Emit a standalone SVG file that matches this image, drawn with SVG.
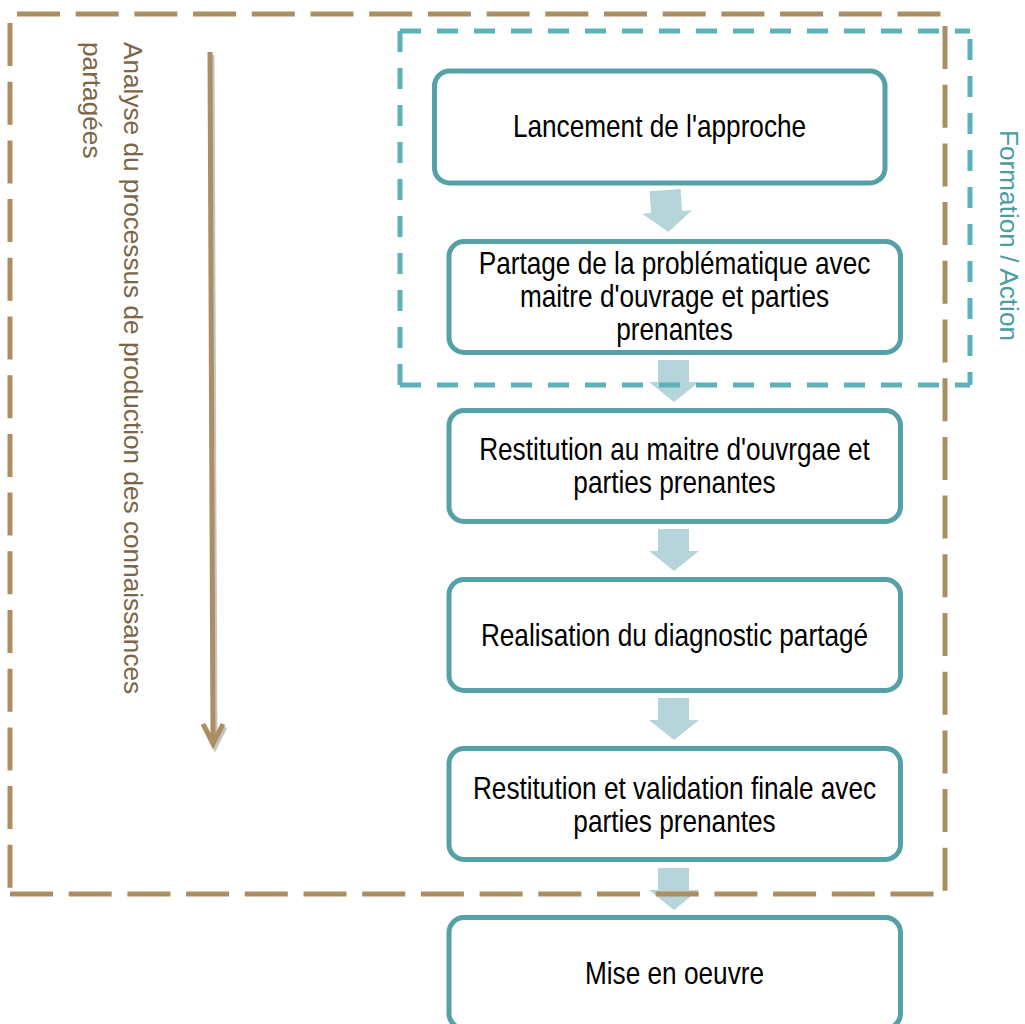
<svg xmlns="http://www.w3.org/2000/svg" xmlns:xlink="http://www.w3.org/1999/xlink" width="1025" height="1024" viewBox="0 0 1025 1024">
<style>
.box{fill:#ffffff;stroke:#55a1a7;stroke-width:5}
.lbl{font-family:"Liberation Sans",Arial,sans-serif;font-size:31px;fill:#000000;text-anchor:middle}
.blk{fill:#b5d5da}
.brown{fill:none;stroke:#ab8f62;stroke-width:5;stroke-dasharray:43 15.7}
.teal{fill:none;stroke:#5bb2b9;stroke-width:5;stroke-dasharray:21 16}
.side{font-family:"Liberation Sans",Arial,sans-serif;font-size:26.2px}
</style>
<defs>
<path id="blkArrow" d="M-16,0 H15 V22 H25 L0,42 L-25,22 H-16 Z"/>
</defs>
<rect width="1025" height="1024" fill="#ffffff"/>

<g id="connectors">
  <use xlink:href="#blkArrow" class="blk" transform="translate(667,190) rotate(-4 0 21)"/>
  <use xlink:href="#blkArrow" class="blk" transform="translate(674,360)"/>
  <use xlink:href="#blkArrow" class="blk" transform="translate(674,529)"/>
  <use xlink:href="#blkArrow" class="blk" transform="translate(674,698)"/>
  <use xlink:href="#blkArrow" class="blk" transform="translate(674,868)"/>
  <g id="process-arrow">
    <g transform="translate(2,3)" opacity="0.45">
      <path d="M210,52 L213,742" stroke="#808080" stroke-width="5" fill="none"/>
      <path d="M203,724 L213,744 L223,724" stroke="#808080" stroke-width="5" fill="none"/>
    </g>
    <path d="M210,52 L213,742" stroke="#ab8f62" stroke-width="5" fill="none"/>
    <path d="M203,724 L213,744 L223,724" stroke="#ab8f62" stroke-width="5" fill="none" stroke-linejoin="miter"/>
  </g>
</g>

<g id="node-lancement">
  <rect class="box" x="434.5" y="71" width="450.5" height="112" rx="15"/>
  <text class="lbl" transform="translate(659.5,137) scale(0.845,1)">Lancement de l'approche</text>
</g>
<g id="node-partage">
  <rect class="box" x="449" y="241.5" width="451.5" height="111" rx="15"/>
  <text class="lbl" transform="translate(674.5,274) scale(0.845,1)">Partage de la problématique avec</text>
  <text class="lbl" transform="translate(674.5,307) scale(0.845,1)">maitre d'ouvrage et parties</text>
  <text class="lbl" transform="translate(674.5,340) scale(0.845,1)">prenantes</text>
</g>
<g id="node-restitution">
  <rect class="box" x="449" y="410.5" width="451.5" height="111" rx="15"/>
  <text class="lbl" transform="translate(674.5,460) scale(0.845,1)">Restitution au maitre d'ouvrgae et</text>
  <text class="lbl" transform="translate(674.5,493) scale(0.845,1)">parties prenantes</text>
</g>
<g id="node-diagnostic">
  <rect class="box" x="449" y="579.5" width="451.5" height="111" rx="15"/>
  <text class="lbl" transform="translate(674.5,646) scale(0.845,1)">Realisation du diagnostic partagé</text>
</g>
<g id="node-validation">
  <rect class="box" x="449" y="748.5" width="451.5" height="111" rx="15"/>
  <text class="lbl" transform="translate(674.5,799) scale(0.845,1)">Restitution et validation finale avec</text>
  <text class="lbl" transform="translate(674.5,832) scale(0.845,1)">parties prenantes</text>
</g>
<g id="node-mise">
  <rect class="box" x="449" y="917.5" width="451.5" height="111" rx="15"/>
  <text class="lbl" transform="translate(674.5,984) scale(0.845,1)">Mise en oeuvre</text>
</g>

<g id="frame-formation">
  <path class="teal" d="M400,31 H970"/>
  <path class="teal" d="M970,39 V385"/>
  <path class="teal" d="M400,385 H970"/>
  <path class="teal" d="M400,31 V385"/>
  <text class="side" fill="#4b9ca3" transform="translate(1000,130) rotate(90)">Formation / Action</text>
</g>

<g id="frame-analyse">
  <path class="brown" d="M17,14 H945"/>
  <path class="brown" d="M945,26 V894"/>
  <path class="brown" d="M10,894 H945"/>
  <path class="brown" d="M10,23 V894"/>
  <text class="side" fill="#7d6646" transform="translate(124,42) rotate(90)">Analyse du processus de production des connaissances</text>
  <text class="side" fill="#7d6646" transform="translate(83,42) rotate(90)">partagées</text>
</g>
</svg>
